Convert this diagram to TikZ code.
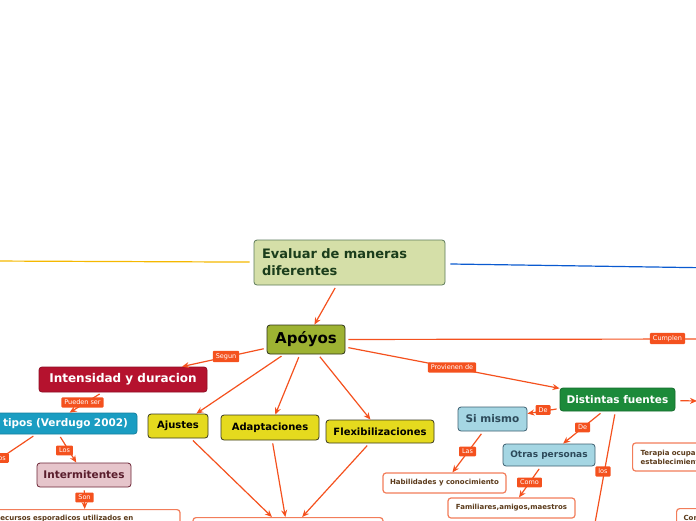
\documentclass[tikz,border=0pt]{standalone}
\usepackage{fontspec}
\setmainfont{DejaVu Sans}
\usetikzlibrary{arrows.meta}
\definecolor{linec}{HTML}{F4511E}
\definecolor{labc}{HTML}{F4511E}
\definecolor{rootf}{HTML}{D5DFA8}
\definecolor{rootb}{HTML}{5C7A5A}
\definecolor{roott}{HTML}{1B3D1B}
\definecolor{apof}{HTML}{9DB232}
\definecolor{apob}{HTML}{2F3318}
\definecolor{intf}{HTML}{B5122E}
\definecolor{intb}{HTML}{8E0E24}
\definecolor{tipf}{HTML}{1A9DC2}
\definecolor{tipb}{HTML}{15809E}
\definecolor{intmf}{HTML}{E6C5CB}
\definecolor{intmb}{HTML}{6B2535}
\definecolor{intmt}{HTML}{5A1D2C}
\definecolor{yelf}{HTML}{E5DA1E}
\definecolor{yelb}{HTML}{3A3A20}
\definecolor{grnf}{HTML}{1C8A3A}
\definecolor{grnb}{HTML}{156B2C}
\definecolor{bluf}{HTML}{A5D6E3}
\definecolor{blub}{HTML}{3D5F70}
\definecolor{blut}{HTML}{2D4A5A}
\definecolor{leafb}{HTML}{F27D5A}
\definecolor{leaft}{HTML}{5A3A1A}
\definecolor{yelline}{HTML}{F5B800}
\definecolor{bluline}{HTML}{0A5AD0}
\tikzset{
  box/.style={rounded corners=3pt, line width=0.8pt, inner sep=0pt},
  leaf/.style={rounded corners=3pt, fill=white, draw=leafb, line width=1.2pt, text=leaft, inner sep=0pt, font=\bfseries\fontsize{7}{9}\selectfont},
  lab/.style={fill=labc, text=white, font=\fontsize{6.5}{7.5}\selectfont, inner xsep=3pt, inner ysep=2.5pt, rounded corners=1pt},
  conn/.style={draw=linec, line width=1.2pt, -{Stealth[length=7pt,width=6pt]}, shorten <=3pt},
  plainconn/.style={draw=linec, line width=1.2pt, shorten <=3pt}
}
\begin{document}
\begin{tikzpicture}[x=1pt,y=-1pt]
\useasboundingbox (0,0) rectangle (696,520);
\clip (0,0) rectangle (696,520);

% main nodes
\node[box, fill=rootf, draw=rootb, text=roott, minimum width=191pt, minimum height=45pt, text width=175pt, align=left, font=\bfseries\fontsize{13}{17}\selectfont] (root) at (349.5,262.5) {Evaluar de maneras\\diferentes};
\node[box, fill=apof, draw=apob, minimum width=78pt, minimum height=29pt, font=\bfseries\fontsize{15}{18}\selectfont] (apoyos) at (306,339.5) {Apóyos};
\node[box, fill=intf, draw=intb, text=white, minimum width=168pt, minimum height=25pt, font=\bfseries\fontsize{12}{14}\selectfont] (intens) at (123,379.5) {Intensidad y duracion};
\node[box, fill=tipf, draw=tipb, text=white, minimum width=170pt, text width=152pt, align=right, minimum height=21pt, font=\bfseries\fontsize{10.5}{13}\selectfont] (tipos) at (52,423.5) {tipos (Verdugo 2002)};
\node[box, fill=intmf, draw=intmb, text=intmt, minimum width=94pt, minimum height=24pt, font=\bfseries\fontsize{10.5}{12}\selectfont] (interm) at (84,475) {Intermitentes};
\node[leaf, anchor=north, text width=180pt, inner xsep=5pt, inner ysep=6pt, align=left] (recursos) at (85,509) {Recursos esporadicos utilizados en\\\phantom{x}};
\node[box, fill=yelf, draw=yelb, minimum width=60pt, minimum height=24pt, font=\bfseries\fontsize{10}{12}\selectfont] (ajustes) at (178,426) {Ajustes};
\node[box, fill=yelf, draw=yelb, minimum width=98pt, minimum height=25pt, font=\bfseries\fontsize{10}{12}\selectfont] (adapt) at (270,427.5) {Adaptaciones};
\node[box, fill=yelf, draw=yelb, minimum width=108pt, minimum height=23pt, font=\bfseries\fontsize{10}{12}\selectfont] (flex) at (380,431.5) {Flexibilizaciones};
\node[leaf, anchor=north, minimum width=190pt, minimum height=30pt] (ajbox) at (288,517) {};
\node[box, fill=grnf, draw=grnb, text=white, minimum width=115pt, minimum height=23pt, font=\bfseries\fontsize{10.5}{12}\selectfont] (fuentes) at (617.5,399.5) {Distintas fuentes};
\node[box, fill=bluf, draw=blub, text=blut, minimum width=69pt, minimum height=24pt, font=\bfseries\fontsize{10.5}{12}\selectfont] (simismo) at (492.5,419) {Si mismo};
\node[box, fill=bluf, draw=blub, text=blut, minimum width=92pt, minimum height=22pt, font=\bfseries\fontsize{9}{11}\selectfont] (otras) at (549,455) {Otras personas};
\node[leaf, minimum width=123pt, minimum height=20pt] (habil) at (444.5,483) {Habilidades y conocimiento};
\node[leaf, minimum width=127pt, minimum height=20pt] (famil) at (511.5,508) {Familiares,amigos,maestros};
\node[leaf, anchor=west, minimum height=28pt, text width=72pt, inner xsep=8pt, align=left] (terapia) at (632,457) {Terapia ocupa\\establecimient};
\node[leaf, anchor=north west, text width=30pt, inner xsep=7pt, inner ysep=7pt, align=left] (con) at (676,508) {Con\\\phantom{x}};

% off-canvas ends
\coordinate (leftend) at (-10,261);
\coordinate (rightend) at (720,268);
\coordinate (cumplenend) at (720,339);
\coordinate (tiposend) at (-20,472);
\coordinate (fuentesright) at (697,401);
\coordinate (losend) at (591,545);

% connectors
\draw[draw=yelline, line width=1.2pt, shorten <=4pt] (root) -- (leftend);
\draw[draw=bluline, line width=1.2pt, shorten <=5pt] (root) -- (rightend);
\draw[conn] (root) -- (apoyos);
\draw[plainconn] (apoyos) -- (cumplenend);
\draw[conn] (apoyos) -- (fuentes);
\draw[conn] (apoyos) -- (intens);
\draw[conn] (apoyos) -- (ajustes);
\draw[conn] (apoyos) -- (adapt);
\draw[conn] (apoyos) -- (flex);
\draw[conn] (intens) -- (tipos);
\draw[plainconn] (tipos) -- (tiposend);
\draw[conn] (tipos) -- (interm);
\draw[conn] (interm) -- (recursos);
\draw[conn] (ajustes) -- (ajbox);
\draw[conn] (adapt) -- (ajbox);
\draw[conn] (flex) -- (ajbox);
\draw[conn, shorten <=5pt] (fuentes) -- (fuentesright);
\draw[conn] (fuentes) -- (simismo);
\draw[conn] (fuentes) -- (otras);
\draw[plainconn] (fuentes) -- (losend);
\draw[conn] (simismo) -- (habil);
\draw[conn] (otras) -- (famil);

% labels
\node[lab] (lcumplen) at (667.5,338.5) {Cumplen};
\node[lab] (lprov) at (452,367.5) {Provienen de};
\node[lab] (lsegun) at (226,356.5) {Segun};
\node[lab] (lpueden) at (82.5,402.5) {Pueden ser};
\node[lab, anchor=east] (lleft) at (9,458) {Los};
\node[lab] (llos) at (64.5,450.5) {Los};
\node[lab] (lson) at (84.5,497.5) {Son};
\node[lab] (lde1) at (543,410) {De};
\node[lab] (lde2) at (582.5,427.5) {De};
\node[lab] (llos2) at (603,471.5) {los};
\node[lab] (llas) at (467.5,451.5) {Las};
\node[lab] (lcomo) at (529.5,482.5) {Como};
\end{tikzpicture}
\end{document}
